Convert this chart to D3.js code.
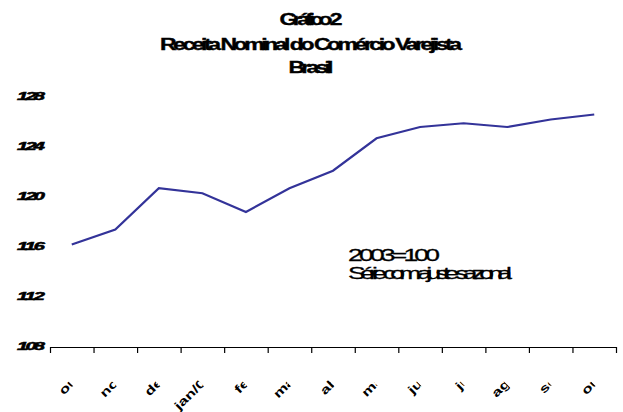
<!DOCTYPE html>
<html>
<head>
<meta charset="utf-8">
<script src="https://cdn.jsdelivr.net/npm/d3@7"></script>
<style>
  body { margin: 0; background: #fff; }
  text { font-family: "Liberation Sans", Arial, sans-serif; }
</style>
</head>
<body>
<div id="chart"></div>
<script>
  // data
  let months = ['out', 'nov', 'dez', 'jan/07', 'fev', 'mar', 'abr', 'mai', 'jun', 'jul', 'ago', 'set', 'out'];
  let receita = [116.2, 117.4, 120.7, 120.3, 118.8, 120.7, 122.1, 124.7, 125.6, 125.9, 125.6, 126.2, 126.6];
  let yTicks = [108, 112, 116, 120, 124, 128];
  let titleLines = ['Gráfico 2', 'Receita Nominal do Comércio Varejista', 'Brasil'];
  let notes = ['2003=100', 'Série com ajuste sazonal'];

  let width = 623, height = 412;
  let plotLeft = 50, plotRight = 616, plotTop = 97, plotBottom = 347;

  let svg = d3.select('#chart')
    .append('svg')
    .attr('width', width)
    .attr('height', height);

  // the original text is drawn with wide glyphs squeezed together,
  // so stretch each text by sx and pack it into its measured width
  function squeezed(sel, sx, cx, w) {
    sel.attr('transform', 'scale(' + sx + ',1)')
      .attr('x', function(d, i) { return cx(d, i) / sx; })
      .attr('textLength', function(d, i) { return w[i] / sx; })
      .attr('lengthAdjust', 'spacing');
  }

  // title
  let titleW = [63, 302, 45];
  let titleY = [25, 50, 73];
  svg.selectAll('text.title')
    .data(titleLines).enter()
    .append('text')
      .attr('class', 'title')
      .attr('y', function(d, i) { return titleY[i]; })
      .attr('text-anchor', 'middle')
      .attr('font-size', 17)
      .attr('font-weight', 'bold')
      .attr('stroke', '#000')
      .attr('stroke-width', 0.4)
      .text(function(d) { return d; })
      .call(squeezed, 1.35, function() { return 311; }, titleW);

  let x = d3.scalePoint()
    .domain(d3.range(months.length))
    .range([plotLeft, plotRight])
    .padding(0.5);

  let xEdges = d3.scaleLinear()
    .domain([0, months.length])
    .range([plotLeft, plotRight]);

  let y = d3.scaleLinear()
    .domain([108, 128])
    .range([plotBottom, plotTop]);

  // x axis: line with ticks between categories
  let xAxis = svg.append('g')
    .attr('transform', 'translate(0,' + plotBottom + ')')
    .call(d3.axisBottom(xEdges)
      .tickValues(d3.range(months.length + 1))
      .tickSize(6)
      .tickSizeOuter(0)
      .tickFormat(''));
  xAxis.select('.domain').attr('stroke', '#000').attr('stroke-width', 1.2);
  xAxis.selectAll('.tick line').attr('stroke', '#000').attr('stroke-width', 1.2);

  // month labels, rotated and cut short like the original
  svg.append('clipPath')
    .attr('id', 'labclip')
    .append('rect')
      .attr('x', -200).attr('y', -30)
      .attr('width', 200 - 9.2).attr('height', 50);

  svg.append('g')
    .selectAll('text')
    .data(months).enter()
    .append('text')
      .attr('transform', function(d, i) {
        return 'translate(' + (x(i) + 10.5) + ',377) rotate(-45) scale(1.4,1)';
      })
      .attr('clip-path', 'url(#labclip)')
      .attr('text-anchor', 'end')
      .attr('font-size', 12)
      .attr('font-weight', 'bold')
      .text(function(d) { return d; });

  // y labels, no axis line
  let ylab = svg.selectAll('text.ylab')
    .data(yTicks).enter()
    .append('text')
      .attr('class', 'ylab')
      .attr('y', function(d) { return y(d) + 3.5; })
      .attr('text-anchor', 'end')
      .attr('font-size', 10)
      .attr('font-weight', 'bold')
      .attr('font-style', 'italic')
      .attr('stroke', '#000')
      .attr('stroke-width', 0.5)
      .text(function(d) { return d; });
  squeezed(ylab, 2, function() { return 45; }, yTicks.map(function() { return 28; }));

  // the series
  let line = d3.line()
    .x(function(d, i) { return x(i); })
    .y(function(d) { return y(d); });

  svg.append('path')
    .datum(receita)
    .attr('d', line)
    .attr('fill', 'none')
    .attr('stroke', '#333399')
    .attr('stroke-width', 2.2);

  // note inside the plot
  let noteW = [92, 164];
  svg.selectAll('text.note')
    .data(notes).enter()
    .append('text')
      .attr('class', 'note')
      .attr('y', function(d, i) { return 261 + i * 18; })
      .attr('font-size', 16.5)
      .attr('stroke', '#000')
      .attr('stroke-width', 0.3)
      .text(function(d) { return d; })
      .call(squeezed, 1.6, function() { return 348; }, noteW);
</script>
</body>
</html>
